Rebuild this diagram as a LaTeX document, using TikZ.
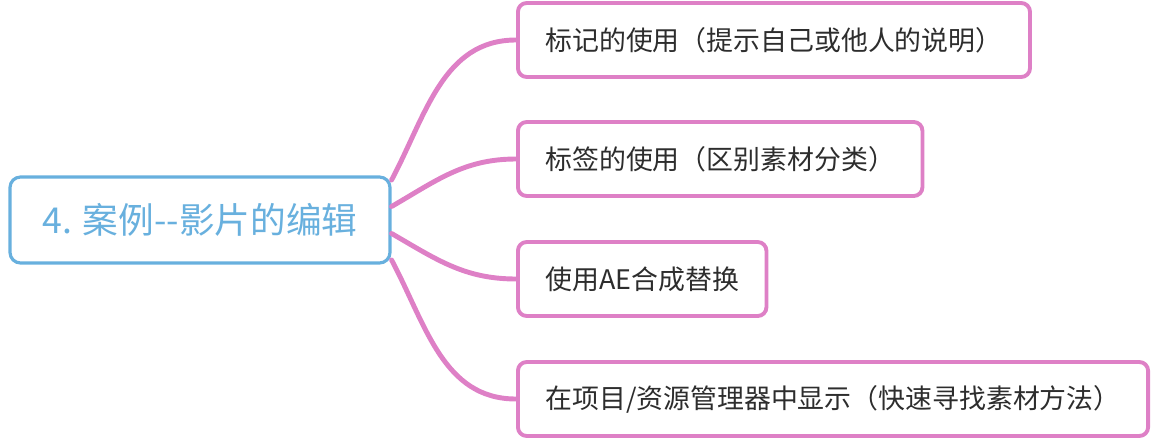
\documentclass[tikz,border=0pt]{standalone}
\usepackage{fontspec}
\setmainfont{Noto Sans CJK SC}
\usepackage{tikz}
\usetikzlibrary{positioning, calc}
\definecolor{RootColor}{RGB}{104,176,222}
\definecolor{BranchColor}{RGB}{222,128,198}
\definecolor{LeafText}{RGB}{45,45,45}
\tikzset{
    rootbox/.style={
        shape=rectangle,
        draw=RootColor,
        line width=1.8pt,
        rounded corners=6pt,
        fill=white,
        text=RootColor,
        font=\fontsize{20.3}{24}\selectfont,
        minimum width=7.6cm,
        minimum height=1.72cm
    },
    leafbox/.style={
        shape=rectangle,
        draw=BranchColor,
        line width=2.2pt,
        rounded corners=5pt,
        fill=white,
        text=LeafText,
        font=\fontsize{15.3}{18}\selectfont,
        anchor=west,
        inner xsep=0.55cm,
        minimum height=1.48cm
    },
    branch/.style={draw=BranchColor, line width=2.8pt, line cap=round}
}

\begin{document}
\begin{tikzpicture}

\useasboundingbox (0,0) rectangle (23.4,-8.8);

% Root
\node[rootbox] (root) at (4.0,-4.4) {4. 案例-{}-影片的编辑};

% Leaves
\node[leafbox] (l_mark) at (10.32,-0.8) {标记的使用（提示自己或他人的说明）};
\node[leafbox] (l_tag) at (10.32,-3.18) {标签的使用（区别素材分类）};
\node[leafbox] (l_ae) at (10.32,-5.58) {使用AE合成替换};
\node[leafbox] (l_find) at (10.32,-7.98) {在项目/资源管理器中显示（快速寻找素材方法）};

% Branches
\draw[branch] ([yshift=0.8cm]root.east) to[out=62, in=180] (l_mark.west);
\draw[branch] ([yshift=0.27cm]root.east) to[out=30, in=180] (l_tag.west);
\draw[branch] ([yshift=-0.27cm]root.east) to[out=-30, in=180] (l_ae.west);
\draw[branch] ([yshift=-0.8cm]root.east) to[out=-62, in=180] (l_find.west);

\end{tikzpicture}
\end{document}
